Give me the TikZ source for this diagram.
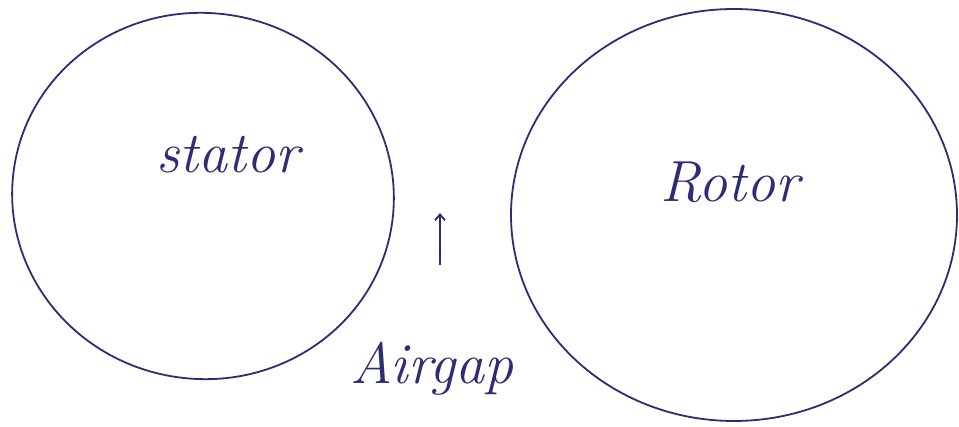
\documentclass[tikz,border=0pt]{standalone}
\usetikzlibrary{shapes.geometric,arrows.meta}
\definecolor{ink}{RGB}{45,45,115}
\begin{document}
\begin{tikzpicture}[x=1pt,y=1pt,
  blob/.style={draw=ink,line width=1.8pt,ellipse,inner sep=0pt},
  lbl/.style={text=ink,font=\itshape\fontsize{58}{62}\selectfont}]
\useasboundingbox[fill=white] (0,0) rectangle (959,427);
\node[blob,minimum width=382pt,minimum height=366pt,rotate=-8] (stator) at (203,231) {};
\node[blob,minimum width=446pt,minimum height=412pt] (rotor) at (734,212) {};
\node[lbl] (st) at (228,272) {stator};
\node[lbl] (ro) at (730,245) {Rotor};
\node[lbl] (air) at (432,58) {Airgap};
\coordinate (a0) at (440,162);
\coordinate (a1) at (440,214);
\draw[ink,line width=1.8pt,-{Straight Barb[length=6pt,width=10pt]}] (a0) -- (a1);
\end{tikzpicture}
\end{document}
